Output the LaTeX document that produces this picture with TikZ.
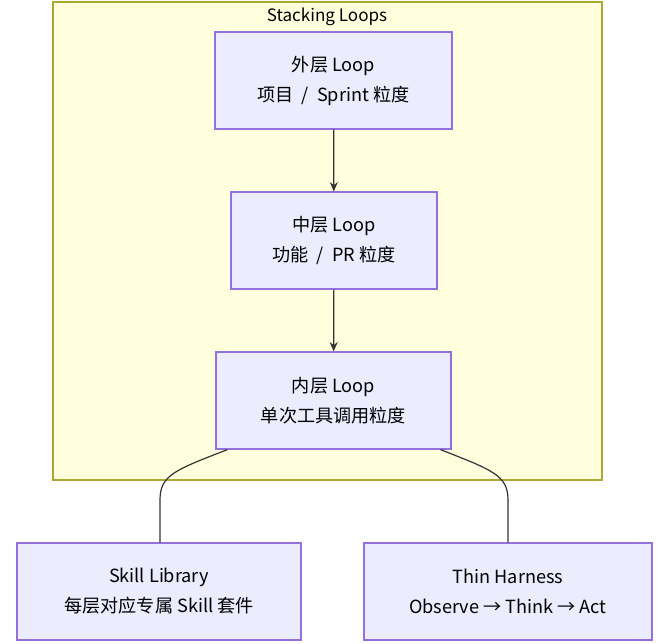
\documentclass[tikz,border=0pt]{standalone}
\usepackage{fontspec}
\setmainfont{Noto Sans CJK SC}
\usetikzlibrary{arrows.meta}
\begin{document}
\begin{tikzpicture}[x=0.75pt,y=-0.75pt,
  box/.style={draw={rgb,255:red,147;green,112;blue,219}, fill={rgb,255:red,236;green,236;blue,255}, line width=0.9pt, align=center, font=\fontsize{13.6}{22.5}\selectfont, inner sep=0pt},
  link/.style={draw={rgb,255:red,51;green,51;blue,51}, line width=0.9pt}]
\useasboundingbox (0,0) rectangle (670,643);
\draw[fill={rgb,255:red,255;green,255;blue,222}, draw={rgb,255:red,170;green,170;blue,51}, line width=0.9pt] (53,2) rectangle (602,480);
\node[font=\fontsize{12.8}{14}\selectfont] (title) at (327,17) {Stacking Loops};
\node[box, minimum width=237*0.75pt, minimum height=97*0.75pt] (n1) at (333.5,80.5) {外层 Loop\\项目 \ / \ Sprint 粒度};
\node[box, minimum width=206*0.75pt, minimum height=97*0.75pt] (n2) at (334,240.5) {中层 Loop\\功能 \ / \ PR 粒度};
\node[box, minimum width=235*0.75pt, minimum height=97*0.75pt] (n3) at (333.5,400.5) {内层 Loop\\单次工具调用粒度};
\node[box, minimum width=284*0.75pt, minimum height=97*0.75pt] (n4) at (159,591.5) {Skill Library\\每层对应专属 Skill 套件};
\node[box, minimum width=288*0.75pt, minimum height=97*0.75pt] (n5) at (508,591.5) {Thin Harness\\Observe → Think → Act};
\draw[link,-{Stealth[length=7pt,width=6pt]}] (n1) -- (n2);
\draw[link,-{Stealth[length=7pt,width=6pt]}] (n2) -- (n3);
\draw[link] (n3.south west)++(12,0) .. controls (175,470) and (160,475) .. (160,500) -- (n4.north -| 160,0);
\draw[link] (n3.south east)++(-11,0) .. controls (492,470) and (508,475) .. (508,500) -- (n5.north -| 508,0);
\end{tikzpicture}
\end{document}
